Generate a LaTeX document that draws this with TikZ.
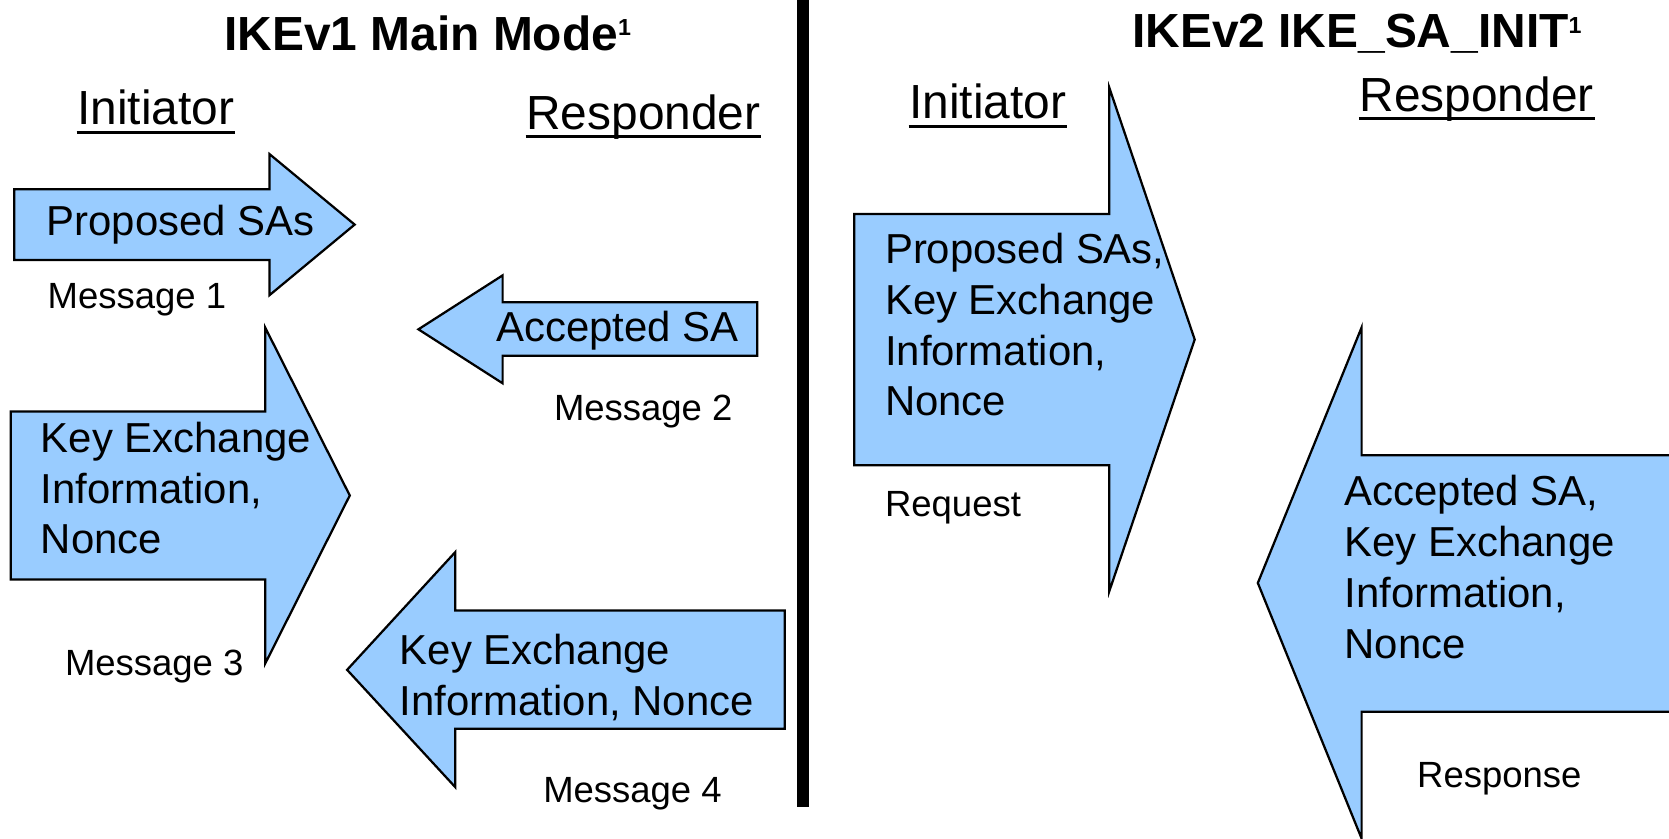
\documentclass[tikz,border=0pt]{standalone}
\usepackage{fontspec}
\setmainfont{Liberation Sans}
\definecolor{arrowblue}{RGB}{153,204,255}
\begin{document}
\begin{tikzpicture}[
  msgarrow/.style={draw=black, fill=arrowblue, line width=0.6pt},
  lbl/.style={anchor=base west, inner sep=0pt, align=left, font=\fontsize{11.2}{13.6}\selectfont},
  msglbl/.style={anchor=base west, inner sep=0pt, font=\fontsize{9.75}{11.7}\selectfont},
  role/.style={anchor=base west, inner sep=0pt, font=\fontsize{12.8}{15.4}\selectfont},
  heading/.style={anchor=base west, inner sep=0pt, font=\fontsize{12.8}{15.4}\selectfont\bfseries},
  uline/.style={line width=0.85pt}
]
\clip (0,0) rectangle (15.68,-7.873);
% IKEv1 side
\begin{scope}
\node[heading] (t1) at (2.10,-0.47) {IKEv1 Main Mode\raisebox{3.8pt}{\fontsize{6.2}{6.5}\selectfont 1}};
\node[role] (i1) at (0.72,-1.174) {Initiator};
\node[role] (r1) at (4.937,-1.221) {Responder};
\draw[uline] ([yshift=-2pt]i1.base west) -- ([yshift=-2pt]i1.base east);
\draw[uline] ([yshift=-1.8pt]r1.base west) -- ([yshift=-1.8pt]r1.base east);
% message 1
\path[msgarrow] (0.134,-1.779) -- (2.531,-1.779) -- (2.531,-1.447) -- (3.332,-2.11) -- (2.531,-2.774) -- (2.531,-2.443) -- (0.134,-2.443) -- cycle;
\node[lbl] (a1) at (0.432,-2.208) {Proposed SAs};
\node[msglbl] (m1) at (0.441,-2.897) {Message 1};
% message 2
\path[msgarrow] (3.931,-3.094) -- (4.722,-2.587) -- (4.722,-2.84) -- (7.113,-2.84) -- (7.113,-3.342) -- (4.722,-3.342) -- (4.722,-3.601) -- cycle;
\node[lbl] (a2) at (4.655,-3.205) {Accepted SA};
\node[msglbl] (m2) at (5.198,-3.947) {Message 2};
% message 3
\path[msgarrow] (0.101,-3.866) -- (2.491,-3.866) -- (2.491,-3.076) -- (3.286,-4.655) -- (2.491,-6.235) -- (2.491,-5.445) -- (0.101,-5.445) -- cycle;
\node[lbl] (a3) at (0.377,-5.204) {Key Exchange\\Information,\\Nonce};
\node[msglbl] (m3) at (0.604,-6.347) {Message 3};
% message 4
\path[msgarrow] (3.261,-6.293) -- (4.277,-5.187) -- (4.277,-5.736) -- (7.372,-5.736) -- (7.372,-6.847) -- (4.277,-6.847) -- (4.277,-7.395) -- cycle;
\node[lbl] (a4) at (3.749,-6.718) {Key Exchange\\Information, Nonce};
\node[msglbl] (m4) at (5.097,-7.54) {Message 4};
% divider
\draw[line width=0.113cm] (7.541,0.1) -- (7.541,-7.585);
\end{scope}
% IKEv2 side
\begin{scope}[xshift=8cm]
\node[heading] (t2) at (2.63,-0.446) {IKEv2 IKE\_SA\_INIT\raisebox{3.8pt}{\fontsize{6.2}{6.5}\selectfont 1}};
\node[role] (i2) at (0.536,-1.115) {Initiator};
\node[role] (r2) at (4.766,-1.048) {Responder};
\draw[uline] ([yshift=-2pt]i2.base west) -- ([yshift=-2pt]i2.base east);
\draw[uline] ([yshift=-1.8pt]r2.base west) -- ([yshift=-1.8pt]r2.base east);
% request
\path[msgarrow] (0.026,-2.01) -- (2.422,-2.01) -- (2.422,-0.825) -- (3.224,-3.19) -- (2.422,-5.553) -- (2.422,-4.372) -- (0.026,-4.372) -- cycle;
\node[lbl] (a5) at (0.308,-3.908) {Proposed SAs,\\Key Exchange\\Information,\\Nonce};
\node[msglbl] (m5) at (0.308,-4.848) {Request};
% response
\path[msgarrow] (3.817,-5.477) -- (4.792,-3.076) -- (4.792,-4.278) -- (7.9,-4.278) -- (7.9,-6.686) -- (4.792,-6.686) -- (4.792,-7.878) -- cycle;
\node[lbl] (a6) at (4.625,-6.187) {Accepted SA,\\Key Exchange\\Information,\\Nonce};
\node[msglbl] (m6) at (5.307,-7.395) {Response};
\end{scope}
\end{tikzpicture}
\end{document}
